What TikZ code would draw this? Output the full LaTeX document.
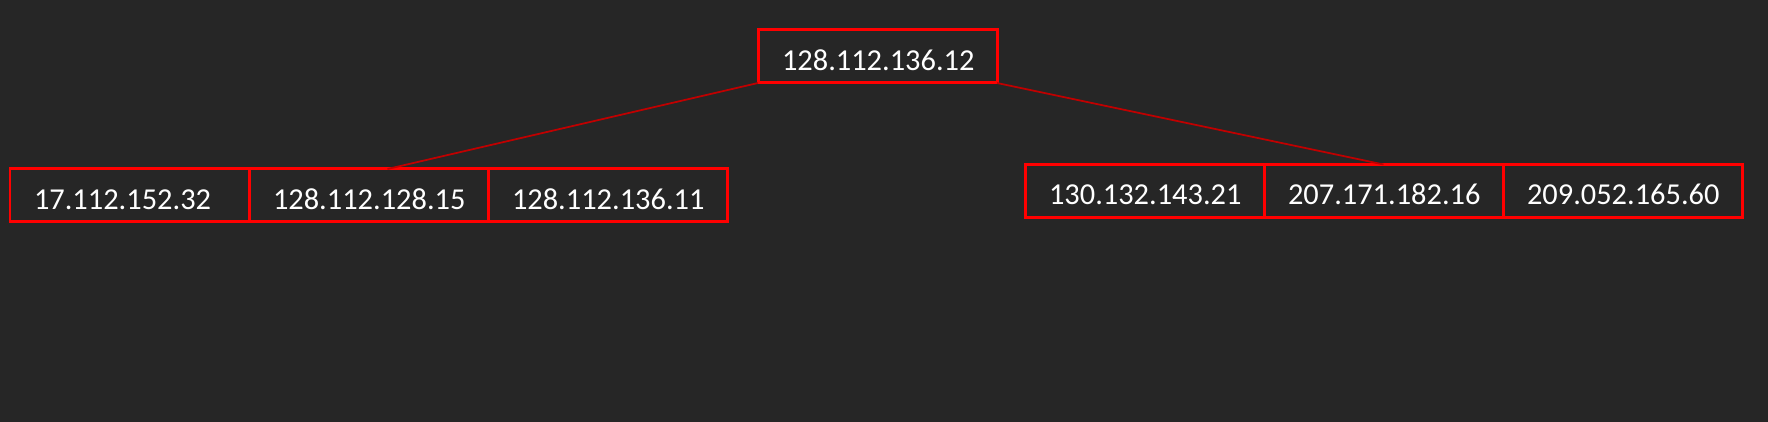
\documentclass[tikz,border=0pt]{standalone}
\usepackage{fontspec}
\setmainfont{Carlito}
\usetikzlibrary{positioning, calc}

\definecolor{bgdark}{HTML}{262626}
\definecolor{boxred}{HTML}{FF0000}
\definecolor{linkred}{HTML}{C00000}

\begin{document}
\begin{tikzpicture}[
    node distance=0cm,
    % Styles
    ipbox/.style={
        draw=boxred, line width=0.06cm, rectangle,
        minimum width=4.78cm, minimum height=1.06cm,
        inner xsep=0.48cm, inner ysep=0pt, outer sep=0pt,
        text width=3.82cm, align=left,
        text height=0.55cm, text depth=0pt,
        text=white, font=\fontsize{17.3}{20}\selectfont
    },
    link/.style={draw=linkred, line width=0.035cm}
  ]

    % --- Canvas ---
    \fill[bgdark] (0,0) rectangle (35.36,-8.44);

    % --- Root ---
    \node (root) [ipbox] at (17.55,-1.13) {128.112.136.12};

    % --- Left child ---
    \node (l1) [ipbox, anchor=west] at (0.2,-3.91) {17.112.152.32};
    \node (l2) [ipbox, right=of l1] {128.112.128.15};
    \node (l3) [ipbox, right=of l2] {128.112.136.11};

    % --- Right child ---
    \node (r1) [ipbox, anchor=west] at (20.5,-3.82) {130.132.143.21};
    \node (r2) [ipbox, right=of r1] {207.171.182.16};
    \node (r3) [ipbox, right=of r2] {209.052.165.60};

    % --- Links ---
    \draw[link] (root.south west) -- ([xshift=0.38cm]l2.north);
    \draw[link] (root.south east) -- (r2.north);

\end{tikzpicture}
\end{document}
